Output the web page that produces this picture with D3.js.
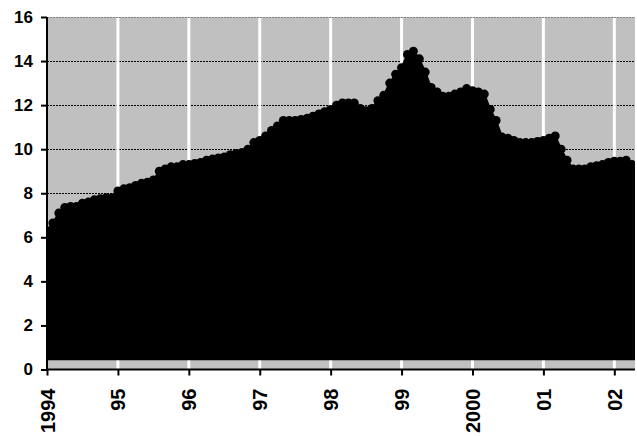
<!DOCTYPE html>
<html><head><meta charset="utf-8">
<script src="https://cdn.jsdelivr.net/npm/d3@7/dist/d3.min.js"></script>
<style>body{margin:0;background:#fff}svg{display:block}</style>
</head><body>
<script>
// Monthly values, Jan 1994 .. Apr 2002
const values = [
 6.3,6.65,7.1,7.35,7.4,7.4,7.55,7.6,7.7,7.75,7.8,7.8,
 8.1,8.2,8.25,8.35,8.45,8.5,8.6,9.0,9.1,9.2,9.2,9.3,
 9.3,9.35,9.4,9.5,9.55,9.6,9.65,9.75,9.8,9.85,10.0,10.3,
 10.4,10.6,10.85,11.05,11.3,11.3,11.3,11.35,11.4,11.5,11.6,11.7,
 11.8,12.0,12.1,12.1,12.1,11.85,11.75,11.85,12.2,12.45,13.0,13.4,
 13.7,14.3,14.45,14.1,13.5,12.8,12.6,12.4,12.4,12.5,12.6,12.75,
 12.65,12.6,12.5,11.8,11.3,10.55,10.5,10.4,10.3,10.3,10.3,10.35,
 10.4,10.5,10.6,10.0,9.5,9.1,9.1,9.1,9.2,9.25,9.3,9.4,
 9.45,9.45,9.5,9.3
];
const baseValue = 0.42;
const yTicks = [0,2,4,6,8,10,12,14,16];
const yearLabels = ["1994","95","96","97","98","99","2000","01","02"];

(function(){
const W = 637, H = 436;
const mL = 47, mR = 635, mT = 17, mB = 369.5;
const svg = d3.select("body").append("svg").attr("width", W).attr("height", H);

const x = d3.scaleLinear().domain([0, 99.5]).range([mL, mR]);
const y = d3.scaleLinear().domain([0, 16]).range([mB, mT]);

const defs = svg.append("defs");
defs.append("clipPath").attr("id","clip").append("rect")
  .attr("x", mL).attr("y", mT).attr("width", mR-mL).attr("height", mB-mT);

svg.append("rect").attr("x", mL).attr("y", mT).attr("width", mR-mL).attr("height", mB-mT)
  .attr("fill", "#c0c0c0");

svg.append("g").selectAll("line").data(yTicks.filter(d => d > 0)).join("line")
  .attr("x1", mL).attr("x2", mR)
  .attr("y1", d => Math.round(y(d)) + 0.5).attr("y2", d => Math.round(y(d)) + 0.5)
  .attr("stroke", d => d === 16 ? "#808080" : "#000")
  .attr("stroke-width", 1).attr("stroke-dasharray", "2,1");

svg.append("g").selectAll("line").data(yearLabels.slice(1)).join("line")
  .attr("x1", (d,i) => x((i+1)*12)).attr("x2", (d,i) => x((i+1)*12))
  .attr("y1", mT + 1).attr("y2", mB)
  .attr("stroke", "#fff").attr("stroke-width", 3);

const g = svg.append("g").attr("clip-path", "url(#clip)");
const area = d3.area().x((d,i) => x(i)).y0(y(baseValue)).y1(d => y(d));
g.append("path").datum(values).attr("d", area).attr("fill", "#000");
g.append("path").datum(values).attr("d", d3.line().x((d,i) => x(i)).y(d => y(d)))
  .attr("fill", "none").attr("stroke", "#000").attr("stroke-width", 2);
g.selectAll("circle").data(values).join("circle")
  .attr("cx", (d,i) => x(i)).attr("cy", d => y(d)).attr("r", 4.5).attr("fill", "#000");
g.append("rect").attr("x", x(values.length-1)).attr("y", y(values[values.length-1]))
  .attr("width", mR - x(values.length-1)).attr("height", y(baseValue) - y(values[values.length-1]))
  .attr("fill", "#000");

const font = "'Liberation Sans', Arial, sans-serif";
const yAxis = svg.append("g").attr("transform", `translate(${mL},0)`)
  .call(d3.axisLeft(y).tickValues(yTicks).tickSize(6).tickPadding(8).tickFormat(d3.format("d")));
yAxis.select(".domain").attr("stroke", "#000").attr("stroke-width", 2).attr("d", `M0,${mT}V${mB+1}`);
yAxis.selectAll(".tick line").attr("stroke", "#000").attr("stroke-width", 2);
yAxis.selectAll("text").attr("font-family", font).attr("font-weight", "bold").attr("font-size", 17).attr("fill", "#000");

const xAxis = svg.append("g").attr("transform", `translate(0,${mB})`)
  .call(d3.axisBottom(x).tickValues(yearLabels.map((d,i) => i*12)).tickSize(6)
    .tickFormat((d,i) => yearLabels[i]));
xAxis.select(".domain").attr("stroke", "#000").attr("stroke-width", 2).attr("d", `M${mL-1},0H${mR}`);
xAxis.selectAll(".tick line").attr("stroke", "#000").attr("stroke-width", 2);
xAxis.selectAll("text").attr("font-family", font).attr("font-weight", "bold").attr("font-size", 20).attr("fill", "#000")
  .attr("transform", "rotate(-90)").attr("text-anchor", "end").attr("dy", "0.35em")
  .attr("x", -19).attr("y", 0);
})();
</script>
</body></html>
